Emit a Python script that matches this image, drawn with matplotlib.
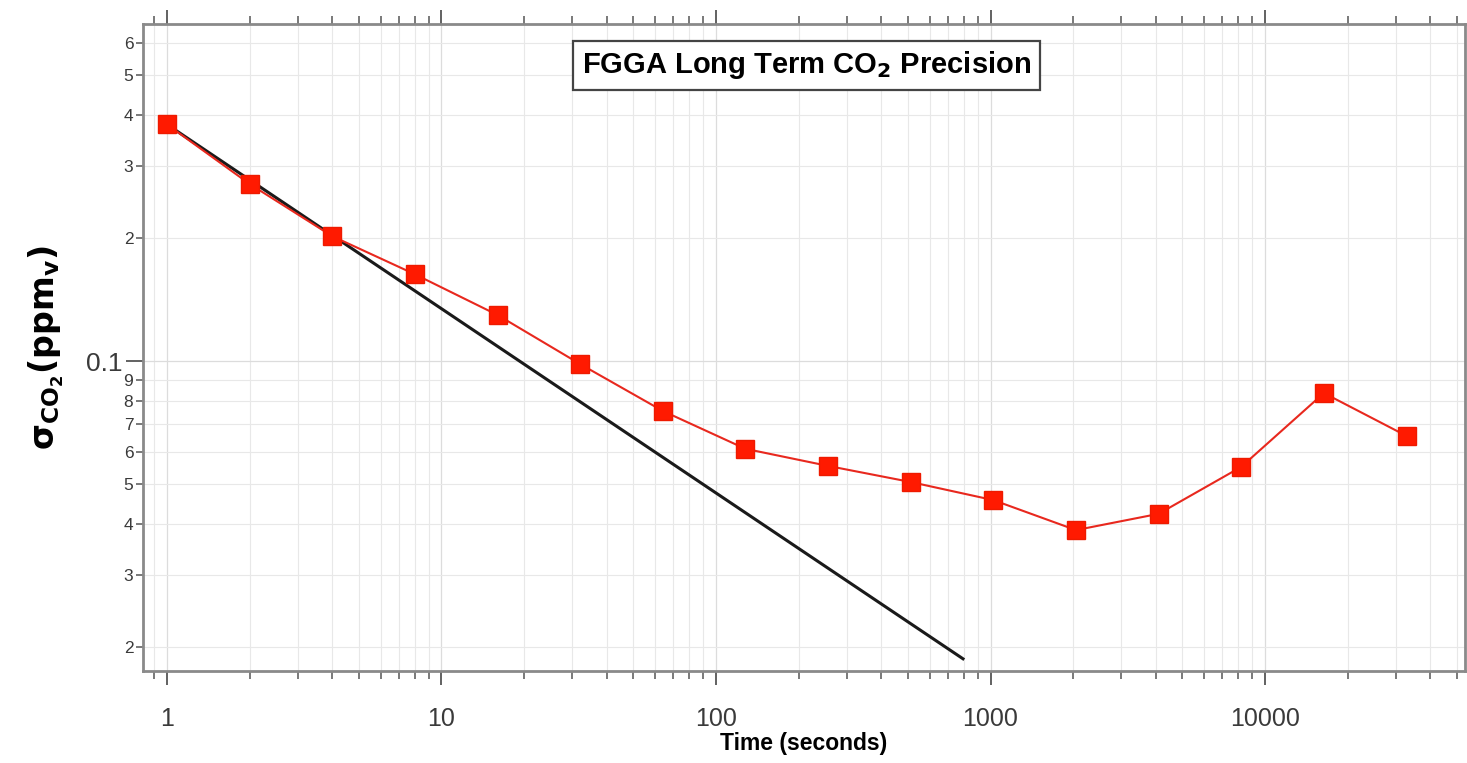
import matplotlib
matplotlib.use("Agg")
import matplotlib.pyplot as plt
import numpy as np
from matplotlib.ticker import FixedLocator, FuncFormatter, LogLocator, NullFormatter

plt.rcParams['font.family'] = ['Liberation Sans', 'DejaVu Sans']

# Allan deviation data
tau = [1, 2, 4, 8, 16, 32, 64, 128, 256, 512, 1024, 2048, 4096, 8192, 16384, 32768]
sigma = [0.379, 0.271, 0.202, 0.163, 0.1296, 0.0983, 0.0755, 0.061, 0.0554,
         0.0506, 0.0457, 0.0386, 0.0423, 0.0551, 0.0835, 0.0656]

# white-noise reference line (start / end points)
fit_tau = [1, 794]
fit_sigma = [0.379, 0.0187]

y_major = [0.1]
y_minor = [0.02, 0.03, 0.04, 0.05, 0.06, 0.07, 0.08, 0.09,
           0.2, 0.3, 0.4, 0.5, 0.6]
x_major = [1, 10, 100, 1000, 10000]
x_labels = ["1", "10", "100", "1000", "10000"]

spine_col = "#8a8a8a"
tick_col = "#555555"
label_col = "#3a3a3a"

fig = plt.figure(figsize=(14.67, 7.63), dpi=100)
ax = fig.add_axes([0.0975, 0.1206, 0.9011, 0.8479])
ax.set_xscale("log")
ax.set_yscale("log")
ax.set_xlim(0.818, 53500)
ax.set_ylim(0.01746, 0.667)

# grid
ax.grid(True, which="major", color="#dcdcdc", lw=0.9)
ax.grid(True, which="minor", color="#e8e8e8", lw=0.8)
ax.set_axisbelow(True)

ax.plot(fit_tau, fit_sigma, color="#1a1a1a", lw=2.2, zorder=3)
ax.plot(tau, sigma, color="#e8281e", lw=1.5, marker="s", markersize=13,
        markerfacecolor="#ff1a00", markeredgecolor="#ee1a00", zorder=4)

# x ticks
ax.xaxis.set_major_locator(FixedLocator(x_major))
ax.xaxis.set_major_formatter(FuncFormatter(lambda v, p: x_labels[x_major.index(v)] if v in x_major else ""))
ax.xaxis.set_minor_locator(LogLocator(base=10, subs=np.arange(2, 10)))
ax.xaxis.set_minor_formatter(NullFormatter())
ax.tick_params(axis="x", which="major", direction="out", length=10, width=1.3,
               color=tick_col, labelsize=18, labelcolor=label_col, top=True, pad=16)
ax.tick_params(axis="x", which="minor", direction="out", length=6, width=1.1,
               color=tick_col, top=True)

# y ticks
def ylab(v, pos):
    if abs(v - 0.1) < 1e-9:
        return "0.1"
    e = np.floor(np.log10(v) + 1e-9)
    return str(int(round(v / 10 ** e)))

ax.yaxis.set_major_locator(FixedLocator(y_major))
ax.yaxis.set_minor_locator(FixedLocator(y_minor))
ax.yaxis.set_major_formatter(FuncFormatter(ylab))
ax.yaxis.set_minor_formatter(FuncFormatter(ylab))
ax.tick_params(axis="y", which="major", direction="out", length=12, width=1.3,
               color=tick_col, labelsize=19, labelcolor=label_col, right=False, pad=3)
ax.tick_params(axis="y", which="minor", direction="out", length=5, width=1.1,
               color=tick_col, labelsize=12.5, labelcolor=label_col, right=False, pad=2)

for s in ax.spines.values():
    s.set_color(spine_col)
    s.set_linewidth(2)

ax.set_xlabel("Time (seconds)", fontsize=16.5, fontweight="bold", labelpad=1)
ax.set_ylabel(r"$\mathbf{\sigma}_{\mathbf{CO_2}}\mathbf{(ppm_v)}$", fontsize=24, labelpad=14)

ax.text(0.502, 0.936, r"FGGA Long Term CO$_\mathbf{2}$ Precision", transform=ax.transAxes,
        ha="center", va="center", fontsize=21, fontweight="bold", zorder=5,
        bbox=dict(boxstyle="square,pad=0.3", facecolor="white", edgecolor="#444444", lw=1.6))

fig.savefig("out.png", dpi=100)
